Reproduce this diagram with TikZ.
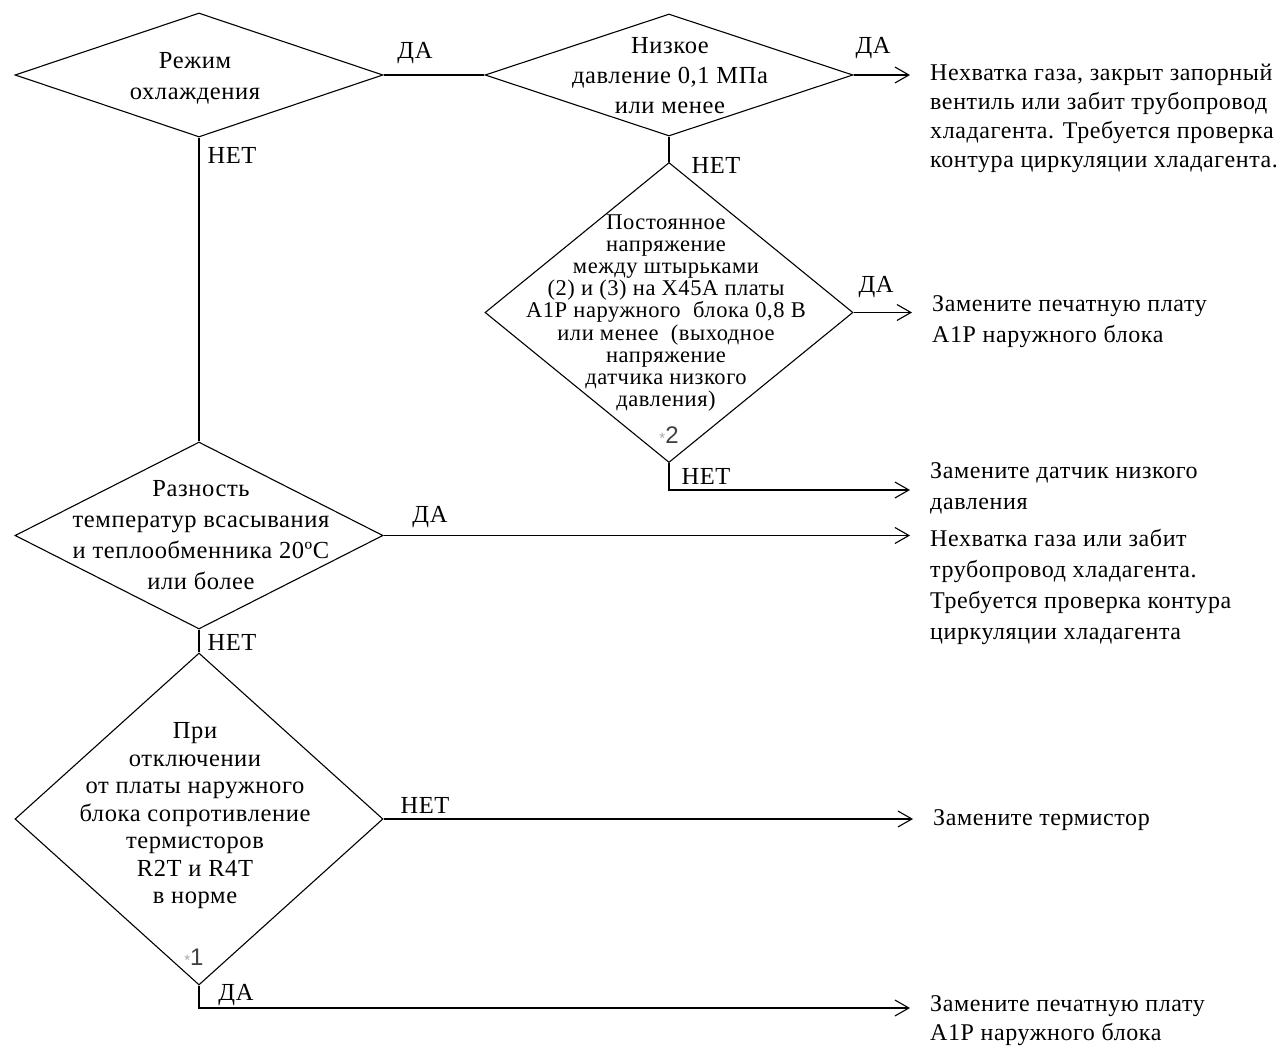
\documentclass[tikz,border=0pt]{standalone}
\usepackage{fontspec}
\setmainfont{Liberation Serif}[LetterSpace=2.5]
\newfontfamily\numfont{Liberation Sans}
\usetikzlibrary{shapes.geometric,arrows.meta}
\begin{document}
\begin{tikzpicture}[x=1pt,y=-1pt,
  dia/.style={shape=diamond, draw, line width=1.1pt, inner sep=0pt},
  txt/.style={inner sep=0pt, align=center, font=\fontsize{24.5}{30}\selectfont},
  rtxt/.style={inner sep=0pt, align=left, anchor=west, font=\fontsize{24}{30}\selectfont},
  lab/.style={inner sep=0pt, font=\fontsize{24.5}{26}\selectfont},
  ln/.style={line width=1.1pt},
  arr/.style={line width=1.1pt, -{Straight Barb[length=14pt,width=16pt,line width=1.1pt]}, shorten >=20pt},
  star/.style={inner sep=0pt, font=\numfont\fontsize{24}{26}\selectfont, text=black!75}
]
\useasboundingbox (0,0) rectangle (1288,1048);

% diamonds
\node[dia, minimum width=368pt, minimum height=124pt] (d1) at (199,75) {};
\node[dia, minimum width=368pt, minimum height=122pt] (d2) at (669,75) {};
\node[dia, minimum width=368pt, minimum height=300pt] (d3) at (669,312.5) {};
\node[dia, minimum width=368pt, minimum height=187pt] (d4) at (199,535.5) {};
\node[dia, minimum width=368pt, minimum height=332pt] (d5) at (199,819) {};

% diamond texts
\node[txt, font=\fontsize{24.5}{31}\selectfont] (t1) at (195,78) {Режим\\охлаждения};
\node[txt] (t2) at (670,76) {Низкое\\давление 0,1 МПа\\или менее};
\node[txt, font=\fontsize{22.5}{22.2}\selectfont] (t3) at (666,313) {Постоянное\\напряжение\\между штырьками\\(2) и (3) на X45A платы\\A1P наружного\ \ блока 0,8 В\\или менее\ \ (выходное\\напряжение\\датчика низкого\\давления)};
\node[txt, font=\fontsize{24.5}{31}\selectfont] (t4) at (201,535) {Разность\\температур всасывания\\и теплообменника 20ºC\\или более};
\node[txt, font=\fontsize{24.5}{27.5}\selectfont] (t5) at (195,816) {При\\отключении\\от платы наружного\\блока сопротивление\\термисторов\\R2T и R4T\\в норме};

\node[star] (s2) at (669,435) {\textcolor{black!35}{\fontsize{15}{15}\selectfont*}2};
\node[star] (s1) at (194,957) {\textcolor{black!35}{\fontsize{15}{15}\selectfont*}1};

% right texts
\node[rtxt, font=\fontsize{24}{29}\selectfont] (r1) at (930,118.5) {Нехватка газа, закрыт запорный\\вентиль или забит трубопровод\\хладагента. Требуется проверка\\контура циркуляции хладагента.};
\node[rtxt, font=\fontsize{24}{31}\selectfont] (r2) at (932,322) {Замените печатную плату\\A1P наружного блока};
\node[rtxt, font=\fontsize{24}{31}\selectfont] (r3) at (930,488) {Замените датчик низкого\\давления};
\node[rtxt, font=\fontsize{24}{31}\selectfont] (r4) at (930,587) {Нехватка газа или забит\\трубопровод хладагента.\\Требуется проверка контура\\циркуляции хладагента};
\node[rtxt] (r5) at (933,820) {Замените термистор};
\node[rtxt, font=\fontsize{24}{29}\selectfont] (r6) at (930,1021) {Замените печатную плату\\A1P наружного блока};

% connectors
\draw[ln] (d1.east) -- (d2.west);
\draw[arr] (d2.east) -- (d2.east -| r1.west);
\draw[ln] (d2.south) -- (d3.north);
\draw[arr] (d3.east) -- (d3.east -| r2.west);
\coordinate (c3) at (669,490);
\draw[arr] (d3.south) -- (c3) -- (c3 -| r3.west);
\draw[ln] (d1.south) -- (d4.north);
\draw[arr] (d4.east) -- (d4.east -| r4.west);
\draw[ln] (d4.south) -- (d5.north);
\draw[arr] (d5.east) -- (d5.east -| r5.west);
\coordinate (c5) at (199,1008);
\draw[arr] (d5.south) -- (c5) -- (c5 -| r6.west);

% branch labels
\node[lab] (l1) at (415,53) {ДА};
\node[lab] (l2) at (873,48) {ДА};
\node[lab] (l3) at (716,165) {НЕТ};
\node[lab] (l4) at (876,287) {ДА};
\node[lab] (l5) at (706,476) {НЕТ};
\node[lab] (l6) at (232,155) {НЕТ};
\node[lab] (l7) at (430,517) {ДА};
\node[lab] (l8) at (232,642) {НЕТ};
\node[lab] (l9) at (425,805) {НЕТ};
\node[lab] (l10) at (236,995) {ДА};
\end{tikzpicture}
\end{document}
